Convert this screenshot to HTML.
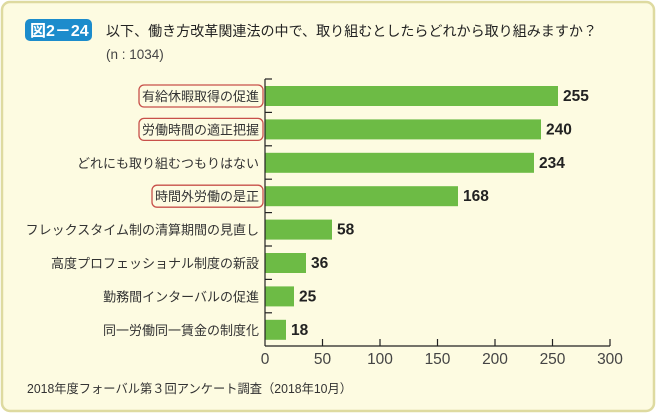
<!DOCTYPE html>
<html><head><meta charset="utf-8"><style>
body{margin:0;background:#fff;}
svg{display:block;font-family:"Liberation Sans","Noto Sans CJK JP",sans-serif;}
</style></head><body>
<svg width="657" height="415" viewBox="0 0 657 415">
<rect x="2" y="2" width="652" height="409" rx="8" fill="#fdfbe1" stroke="#dedaa0" stroke-width="2.5"/>
<rect x="25" y="19" width="67" height="22" rx="5" fill="#1c8ccc"/>
<text x="30" y="36" font-size="16" font-weight="bold" fill="#fff">図2－24</text>
<text x="106" y="36" font-size="14" fill="#222" textLength="491" lengthAdjust="spacingAndGlyphs">以下、働き方改革関連法の中で、取り組むとしたらどれから取り組みますか？</text>
<text x="106" y="59" font-size="13.5" fill="#444">(n : 1034)</text>
<g fill="#6dbb45">
<rect x="265" y="86" width="293" height="20"/>
<rect x="265" y="119.4" width="276" height="20"/>
<rect x="265" y="152.8" width="269" height="20"/>
<rect x="265" y="186.2" width="193" height="20"/>
<rect x="265" y="219.6" width="67" height="20"/>
<rect x="265" y="253" width="41" height="20"/>
<rect x="265" y="286.4" width="29" height="20"/>
<rect x="265" y="319.8" width="21" height="20"/>
</g>
<g font-size="15.5" font-weight="bold" fill="#222">
<text x="563" y="101">255</text>
<text x="546" y="134.4">240</text>
<text x="539" y="167.8">234</text>
<text x="463" y="201.2">168</text>
<text x="337" y="234.6">58</text>
<text x="311" y="268">36</text>
<text x="299" y="301.4">25</text>
<text x="291" y="334.8">18</text>
</g>
<g fill="none" stroke="#c8504a" stroke-width="1.3">
<rect x="139" y="85" width="124" height="22" rx="5"/>
<rect x="139" y="118.4" width="124" height="22" rx="5"/>
<rect x="152" y="185.2" width="111" height="22" rx="5"/>
</g>
<g font-size="13" fill="#333" text-anchor="end">
<text x="259" y="101">有給休暇取得の促進</text>
<text x="259" y="134.4">労働時間の適正把握</text>
<text x="259" y="167.8">どれにも取り組むつもりはない</text>
<text x="259" y="201.2">時間外労働の是正</text>
<text x="259" y="234.6">フレックスタイム制の清算期間の見直し</text>
<text x="259" y="268">高度プロフェッショナル制度の新設</text>
<text x="259" y="301.4">勤務間インターバルの促進</text>
<text x="259" y="334.8">同一労働同一賃金の制度化</text>
</g>
<g stroke="#222" stroke-width="1.2">
<line x1="265" y1="79" x2="265" y2="346"/>
<line x1="265" y1="346" x2="610" y2="346"/>
<line x1="265" y1="79" x2="272" y2="79"/>
<line x1="265" y1="112.4" x2="272" y2="112.4"/>
<line x1="265" y1="145.8" x2="272" y2="145.8"/>
<line x1="265" y1="179.2" x2="272" y2="179.2"/>
<line x1="265" y1="212.6" x2="272" y2="212.6"/>
<line x1="265" y1="246" x2="272" y2="246"/>
<line x1="265" y1="279.4" x2="272" y2="279.4"/>
<line x1="265" y1="312.8" x2="272" y2="312.8"/>
<line x1="322.5" y1="339" x2="322.5" y2="346"/>
<line x1="380" y1="339" x2="380" y2="346"/>
<line x1="437.5" y1="339" x2="437.5" y2="346"/>
<line x1="495" y1="339" x2="495" y2="346"/>
<line x1="552.5" y1="339" x2="552.5" y2="346"/>
<line x1="610" y1="339" x2="610" y2="346"/>
</g>
<g font-size="15.5" fill="#444" text-anchor="middle">
<text x="265" y="364">0</text>
<text x="322.5" y="364">50</text>
<text x="380" y="364">100</text>
<text x="437.5" y="364">150</text>
<text x="495" y="364">200</text>
<text x="552.5" y="364">250</text>
<text x="610" y="364">300</text>
</g>
<text x="27" y="393" font-size="12.5" fill="#333" textLength="325" lengthAdjust="spacingAndGlyphs">2018年度フォーバル第３回アンケート調査（2018年10月）</text>
</svg>
</body></html>
